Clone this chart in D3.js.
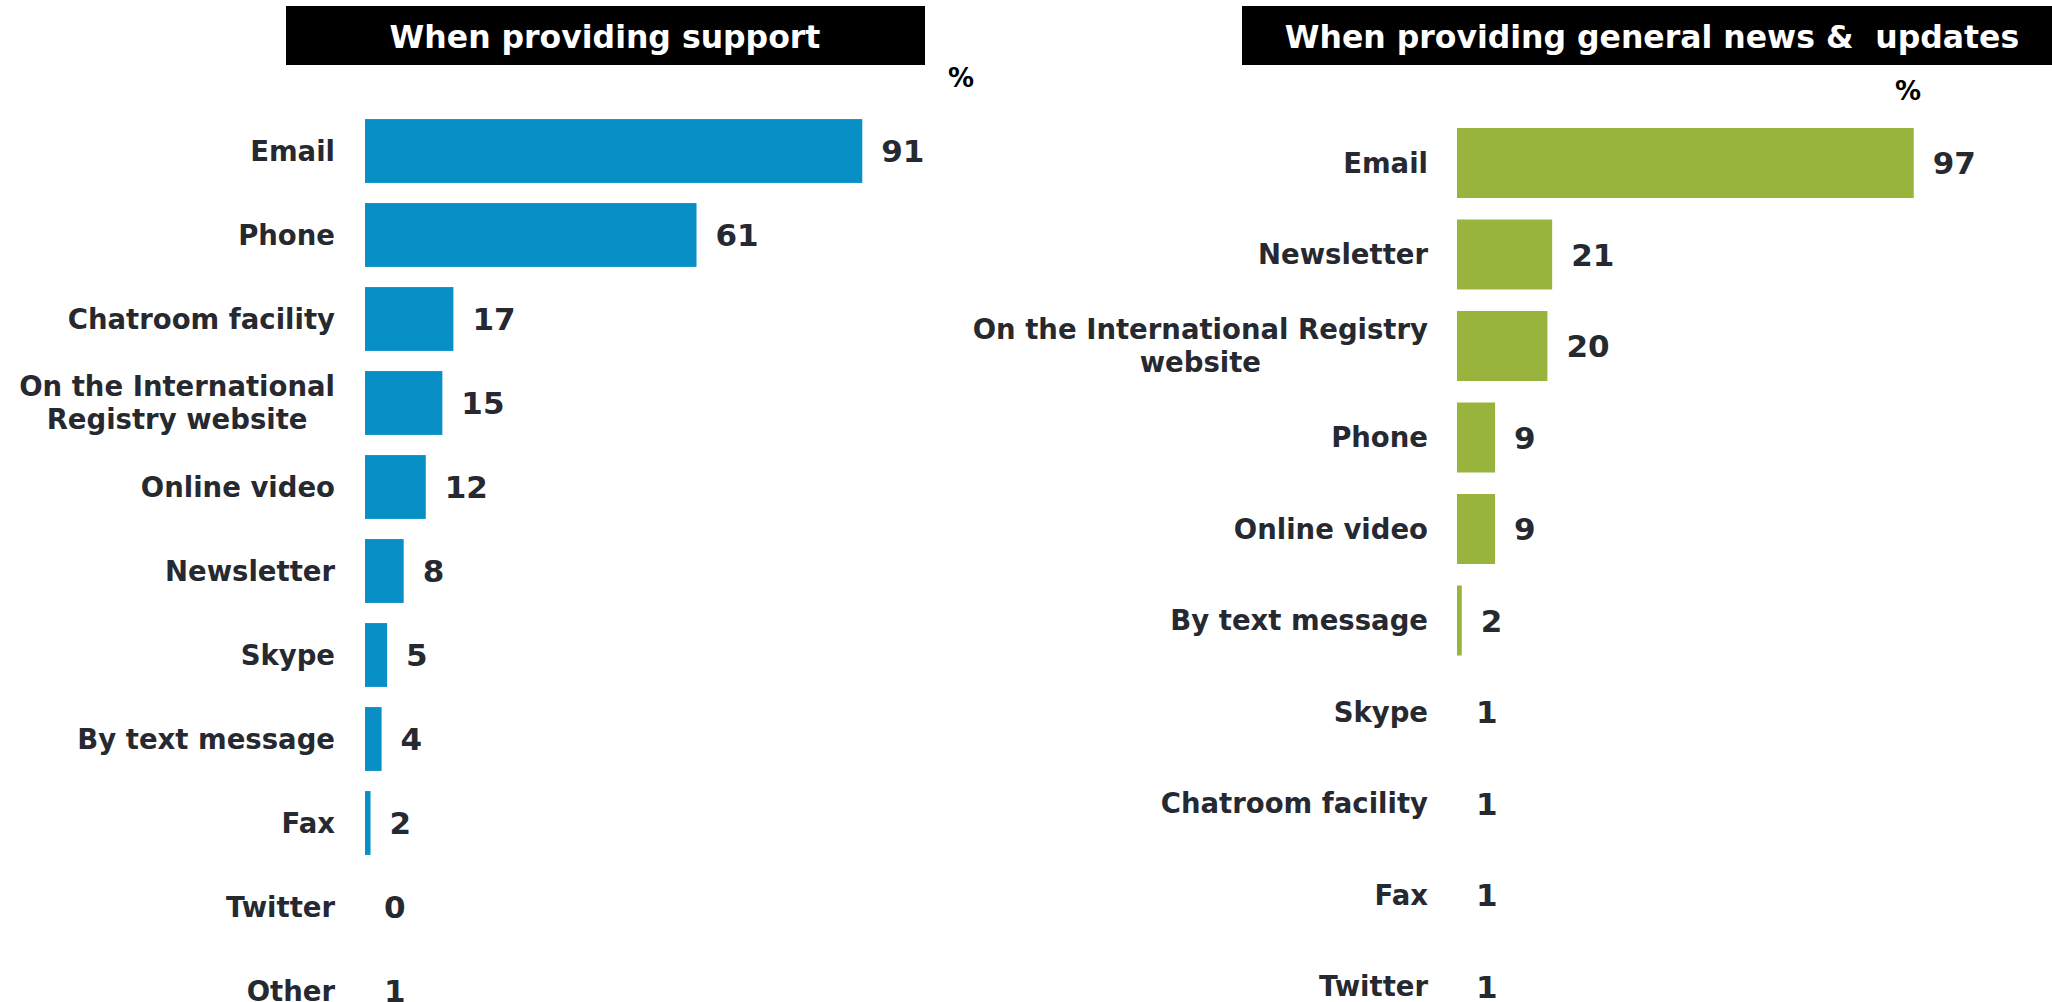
<!DOCTYPE html>
<html>
<head>
<meta charset="utf-8">
<script src="https://cdn.jsdelivr.net/npm/d3@7"></script>
<style>
  body { margin: 0; background: #fff; }
  svg { display: block; font-family: "DejaVu Sans", Verdana, sans-serif; font-weight: bold; }
</style>
</head>
<body>
<script>
// data: support panel
const supportLabels = ['Email', 'Phone', 'Chatroom facility', 'On the International|Registry website',
  'Online video', 'Newsletter', 'Skype', 'By text message', 'Fax', 'Twitter', 'Other'];
const supportValues = [91, 61, 17, 15, 12, 8, 5, 4, 2, 0, 1];

// data: general news panel
const newsLabels = ['Email', 'Newsletter', 'On the International Registry|website', 'Phone',
  'Online video', 'By text message', 'Skype', 'Chatroom facility', 'Fax', 'Twitter'];
const newsValues = [97, 21, 20, 9, 9, 2, 1, 1, 1, 1];

const titles = ['When providing support', 'When providing general news &  updates'];

const width = 2052, height = 1002;
const textColor = '#262930';

const svg = d3.select('body').append('svg')
  .attr('width', width).attr('height', height);

function panel(cfg) {
  const g = svg.append('g');

  // title box
  g.append('rect')
    .attr('x', cfg.boxX).attr('y', 6)
    .attr('width', cfg.boxW).attr('height', 59)
    .attr('fill', '#000');
  g.append('text')
    .attr('x', cfg.titleX).attr('y', 48)
    .attr('text-anchor', 'middle')
    .attr('fill', '#fff')
    .style('font-size', '31.5px')
    .style('white-space', 'pre')
    .text(cfg.title);

  g.append('text')
    .attr('x', cfg.pctX).attr('y', cfg.pctY)
    .attr('fill', '#000')
    .style('font-size', '26px')
    .text('%');

  let x = d3.scaleLinear().domain([1, 100]).range([0, cfg.xLen]).clamp(true);
  let y = d3.scaleBand()
    .domain(cfg.labels)
    .range(cfg.yRange)
    .paddingInner(cfg.pad)
    .paddingOuter(cfg.pad / 2);

  let rows = cfg.labels.map((l, i) => ({label: l, value: cfg.values[i]}));

  // bars
  g.selectAll('rect.bar')
    .data(rows)
    .enter().append('rect')
    .attr('class', 'bar')
    .attr('x', cfg.x0)
    .attr('y', d => y(d.label))
    .attr('width', d => x(d.value))
    .attr('height', y.bandwidth())
    .attr('fill', cfg.color);

  // value labels
  g.selectAll('text.val')
    .data(rows)
    .enter().append('text')
    .attr('class', 'val')
    .attr('x', d => cfg.x0 + x(d.value) + 19)
    .attr('y', d => y(d.label) + y.bandwidth() / 2)
    .attr('dy', '0.36em')
    .attr('fill', textColor)
    .style('font-size', '31px')
    .text(d => d.value);

  // category labels (multi-line ones are centred as a block, right edge fixed)
  let lab = g.selectAll('g.lab')
    .data(rows)
    .enter().append('g')
    .attr('class', 'lab');

  lab.each(function(d) {
    let lines = d.label.split('|');
    let cy = y(d.label) + y.bandwidth() / 2;
    let grp = d3.select(this);
    if (lines.length === 1) {
      grp.append('text')
        .attr('x', cfg.labelX).attr('y', cy)
        .attr('dy', '0.35em')
        .attr('text-anchor', 'end')
        .attr('fill', textColor)
        .style('font-size', '27.5px')
        .text(lines[0]);
    } else {
      let ts = lines.map((t, i) => grp.append('text')
        .attr('y', cy + (i - (lines.length - 1) / 2) * 33)
        .attr('dy', '0.35em')
        .attr('text-anchor', 'middle')
        .attr('fill', textColor)
        .style('font-size', '27.5px')
        .text(t));
      let maxW = d3.max(ts, t => t.node().getComputedTextLength());
      ts.forEach(t => t.attr('x', cfg.labelX - maxW / 2));
    }
  });
}

panel({
  title: titles[0], boxX: 286, boxW: 639, titleX: 605,
  pctX: 948, pctY: 87,
  labels: supportLabels, values: supportValues,
  labelX: 335, x0: 365, xLen: 547,
  yRange: [109, 1033], pad: 0.24,
  color: '#0890c6'
});

panel({
  title: titles[1], boxX: 1242, boxW: 810, titleX: 1652,
  pctX: 1895, pctY: 100,
  labels: newsLabels, values: newsValues,
  labelX: 1428, x0: 1457, xLen: 471,
  yRange: [117.25, 1032.25], pad: 0.235,
  color: '#99b43c'
});
</script>
</body>
</html>
